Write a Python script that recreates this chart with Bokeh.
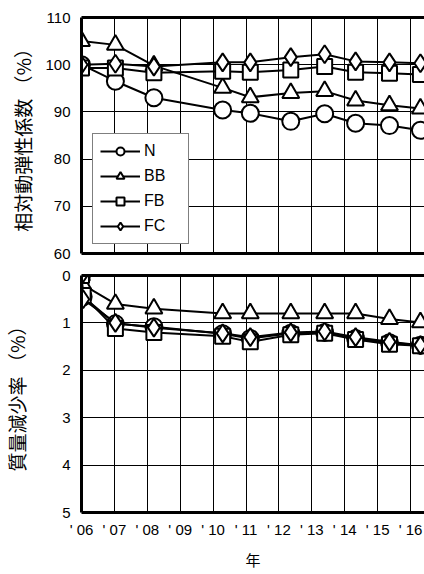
from bokeh.plotting import figure
from bokeh.models import FixedTicker, LinearAxis, Range1d, Grid
from bokeh.layouts import column
from bokeh.embed import file_html
from bokeh.resources import INLINE

FONT = "Noto Sans CJK JP"
NUM_FONT = "Liberation Sans"

# ---- data ----
year_ticks = [2006, 2007, 2008, 2009, 2010, 2011, 2012, 2013, 2014, 2015, 2016]
year_tick_labels = ["' 06", "' 07", "' 08", "' 09", "' 10", "' 11", "' 12", "' 13", "' 14", "' 15", "' 16"]

# relative dynamic modulus (%)
x_top = [2006.0, 2007.03, 2008.2, 2010.29, 2011.13, 2012.36, 2013.39, 2014.33, 2015.36, 2016.3]
rdm_N = [100.0, 96.5, 93.0, 90.4, 89.7, 88.0, 89.6, 87.6, 87.1, 86.1]
rdm_BB = [105.0, 104.2, 99.8, 95.1, 93.1, 94.0, 94.4, 92.4, 91.4, 90.7]
rdm_FB = [99.3, 99.3, 98.3, 98.6, 98.4, 98.9, 99.6, 98.4, 98.2, 97.9]
rdm_FC = [100.0, 100.2, 99.6, 100.5, 100.5, 101.6, 102.2, 100.7, 100.5, 100.3]
top_yticks = [60, 70, 80, 90, 100, 110]

# mass loss (%)
x_bot = [2006.0, 2006.05, 2007.03, 2008.2, 2010.29, 2011.13, 2012.36, 2013.39, 2014.33, 2015.36, 2016.3]
ml_N = [0.0, 0.45, 1.02, 1.08, 1.23, 1.33, 1.22, 1.20, 1.33, 1.42, 1.47]
ml_BB = [0.0, 0.20, 0.60, 0.70, 0.80, 0.80, 0.80, 0.80, 0.80, 0.92, 0.99]
ml_FB = [0.0, 0.42, 1.12, 1.20, 1.28, 1.40, 1.25, 1.22, 1.35, 1.45, 1.48]
ml_FC = [0.0, 0.50, 1.00, 1.10, 1.22, 1.30, 1.20, 1.18, 1.30, 1.40, 1.47]
bot_yticks = [0, 1, 2, 3, 4, 5]

series = [
    ("N", "circle", 17, rdm_N, ml_N),
    ("BB", "triangle", 17, rdm_BB, ml_BB),
    ("FB", "square", 15, rdm_FB, ml_FB),
    ("FC", "diamond", 18, rdm_FC, ml_FC),
]

X_END = 2006 + 344 / 33.0


def border_axis(p, side):
    ax = LinearAxis(ticker=FixedTicker(ticks=[]), axis_line_width=3, axis_line_color="black",
                    major_tick_line_color=None, minor_tick_line_color=None,
                    major_tick_out=0, major_tick_in=0, major_label_standoff=0)
    p.add_layout(ax, side)
    return ax


def make(height, yrange, yticks, ylabel, label_standoff, min_top, min_bottom):
    p = figure(width=424, height=height, x_range=Range1d(2006, X_END), y_range=yrange,
               output_backend="svg", toolbar_location=None,
               x_axis_type=None, y_axis_type=None,
               min_border_left=80, min_border_right=0,
               min_border_top=min_top, min_border_bottom=min_bottom)
    p.outline_line_color = None
    p.background_fill_color = "white"
    p.border_fill_color = "white"
    yax = LinearAxis(ticker=FixedTicker(ticks=yticks), axis_line_width=3, axis_line_color="black",
                     major_tick_line_color=None, minor_tick_line_color=None,
                     major_tick_out=0, major_tick_in=0,
                     major_label_text_font=NUM_FONT, major_label_text_font_size="15px",
                     major_label_text_color="black", major_label_standoff=11,
                     axis_label=ylabel, axis_label_text_font=FONT,
                     axis_label_text_font_size="19px", axis_label_text_font_style="normal",
                     axis_label_text_color="black", axis_label_standoff=label_standoff)
    p.add_layout(yax, "left")
    p.add_layout(Grid(dimension=0, ticker=FixedTicker(ticks=year_ticks),
                      grid_line_color="black", grid_line_width=1))
    p.add_layout(Grid(dimension=1, ticker=FixedTicker(ticks=yticks),
                      grid_line_color="black", grid_line_width=1))
    border_axis(p, "above")
    return p


# ---- top panel ----
p1 = make(264, Range1d(60, 110), top_yticks, "相対動弾性係数 （%）", 6, 17, 11)
border_axis(p1, "below")

for name, marker, size, ytop, ybot in series:
    p1.line(x_top, ytop, line_color="black", line_width=2, legend_label=name)
    p1.scatter(x_top, ytop, marker=marker, size=size, line_color="black", line_width=2,
               fill_color="white", legend_label=name)

lg = p1.legend[0]
lg.location = (11, 9)
lg.margin = 0
lg.padding = 7
lg.spacing = 5
lg.glyph_width = 40
lg.glyph_height = 20
lg.label_height = 20
lg.label_width = 37
lg.label_standoff = 4
lg.label_text_font = NUM_FONT
lg.label_text_font_size = "16px"
lg.label_text_color = "black"
lg.border_line_color = "black"
lg.border_line_width = 1
lg.background_fill_color = "white"
lg.background_fill_alpha = 1.0

# ---- bottom panel ----
p2 = make(310, Range1d(5, 0), bot_yticks, "質量減少率 （%）", 29, 11, 62)
xax = LinearAxis(ticker=FixedTicker(ticks=year_ticks), axis_line_width=3, axis_line_color="black",
                 major_tick_line_color=None, minor_tick_line_color=None,
                 major_tick_out=0, major_tick_in=0,
                 major_label_overrides={t: s for t, s in zip(year_ticks, year_tick_labels)},
                 major_label_text_font=NUM_FONT, major_label_text_font_size="15px",
                 major_label_text_color="black", major_label_standoff=8,
                 axis_label="年", axis_label_text_font=FONT, axis_label_text_font_size="15px",
                 axis_label_text_font_style="normal", axis_label_text_color="black",
                 axis_label_standoff=8)
p2.add_layout(xax, "below")

for name, marker, size, ytop, ybot in series:
    p2.line(x_bot, ybot, line_color="black", line_width=2)
    p2.scatter(x_bot, ybot, marker=marker, size=size, line_color="black", line_width=2,
               fill_color="white")

layout = column(p1, p2, spacing=0)
open("out.html", "w").write(file_html(layout, INLINE))
